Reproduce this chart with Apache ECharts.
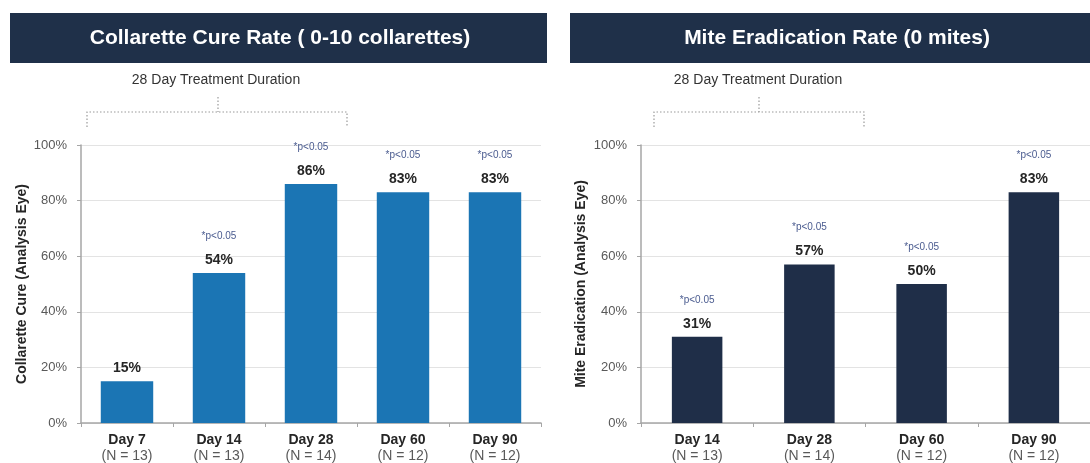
<!DOCTYPE html>
<html><head><meta charset="utf-8">
<script src="https://cdn.jsdelivr.net/npm/echarts@6/dist/echarts.min.js"></script>
<style>html,body{margin:0;padding:0;background:#fff}#c{width:1090px;height:463px}</style>
</head><body><div id="c"></div>
<script>
const leftCategories = ['Day 7', 'Day 14', 'Day 28', 'Day 60', 'Day 90'];
const leftN = ['(N = 13)', '(N = 13)', '(N = 14)', '(N = 12)', '(N = 12)'];
const leftValues = [15, 54, 86, 83, 83];
const leftP = ['', '*p<0.05', '*p<0.05', '*p<0.05', '*p<0.05'];

const rightCategories = ['Day 14', 'Day 28', 'Day 60', 'Day 90'];
const rightN = ['(N = 13)', '(N = 14)', '(N = 12)', '(N = 12)'];
const rightValues = [31, 57, 50, 83];
const rightP = ['*p<0.05', '*p<0.05', '*p<0.05', '*p<0.05'];

const yTicks = [0, 20, 40, 60, 80, 100];

const titleLeft = 'Collarette Cure Rate ( 0-10 collarettes)';
const titleRight = 'Mite Eradication Rate (0 mites)';
const subTitle = '28 Day Treatment Duration';
const yNameLeft = 'Collarette Cure (Analysis Eye)';
const yNameRight = 'Mite Eradication (Analysis Eye)';

const FONT = '"Liberation Sans", Arial, sans-serif';
const chart = echarts.init(document.getElementById('c'), null, {renderer: 'canvas'});

function xAxis(idx, cats, ns) {
  return {
    type: 'category', gridIndex: idx, data: cats,
    axisLine: {lineStyle: {color: '#a6a6a6', width: 1.5}},
    axisTick: {show: true, length: 4, lineStyle: {color: '#a6a6a6'}},
    axisLabel: {
      margin: 9, interval: 0,
      formatter: (v, i) => '{d|' + v + '}\n{n|' + ns[i] + '}',
      rich: {
        d: {fontFamily: FONT, fontSize: 14, fontWeight: 'bold', color: '#262626', lineHeight: 16},
        n: {fontFamily: FONT, fontSize: 14, color: '#595959', lineHeight: 16}
      }
    }
  };
}
function yAxis(idx, name, gap) {
  return {
    type: 'value', gridIndex: idx, min: yTicks[0], max: yTicks[yTicks.length - 1], interval: 20,
    name: name, nameLocation: 'middle', nameGap: gap, nameRotate: 90,
    nameTextStyle: {fontFamily: FONT, fontSize: 14, fontWeight: 'bold', color: '#262626'},
    axisLine: {show: true, lineStyle: {color: '#a6a6a6', width: 1.5}},
    axisTick: {show: true, length: 4, lineStyle: {color: '#a6a6a6'}},
    axisLabel: {margin: 14, fontFamily: FONT, fontSize: 13, color: '#595959', formatter: '{value}%'},
    splitLine: {lineStyle: {color: '#e3e3e3', width: 1}}
  };
}
function barSeries(idx, values, ps, color, bw) {
  return {
    type: 'bar', xAxisIndex: idx, yAxisIndex: idx, data: values, barWidth: bw,
    itemStyle: {color: color},
    label: {
      show: true, position: 'top', distance: 4,
      formatter: (p) => (ps[p.dataIndex] ? '{p|' + ps[p.dataIndex] + '}\n' : '') + '{v|' + p.value + '%}',
      rich: {
        p: {fontFamily: FONT, fontSize: 10, color: '#4a5b8f', lineHeight: 30},
        v: {fontFamily: FONT, fontSize: 14, fontWeight: 'bold', color: '#262626', lineHeight: 18}
      }
    }
  };
}
function bracket(x1, x2, xm) {
  const st = {stroke: '#9a9a9a', lineWidth: 1.2, lineDash: [1.5, 2]};
  return [
    {type: 'polyline', shape: {points: [[x1, 127], [x1, 112], [x2, 112], [x2, 127]]}, style: st, silent: true},
    {type: 'line', shape: {x1: xm, y1: 97, x2: xm, y2: 112}, style: st, silent: true}
  ];
}

chart.setOption({
  animation: false,
  grid: [
    {left: 81, top: 145, width: 460, bottom: 40},
    {left: 641, top: 145, width: 450, bottom: 40}
  ],
  xAxis: [xAxis(0, leftCategories, leftN), xAxis(1, rightCategories, rightN)],
  yAxis: [yAxis(0, yNameLeft, 52), yAxis(1, yNameRight, 53)],
  series: [
    barSeries(0, leftValues, leftP, '#1b75b4', '57%'),
    barSeries(1, rightValues, rightP, '#1f2e48', '45%')
  ],
  graphic: [
    {type: 'rect', shape: {x: 10, y: 13, width: 537, height: 50}, style: {fill: '#1f3049'}, silent: true},
    {type: 'text', x: 280, y: 38, style: {text: titleLeft, fill: '#ffffff', font: 'bold 21px ' + FONT, align: 'center', verticalAlign: 'middle'}, silent: true},
    {type: 'rect', shape: {x: 570, y: 13, width: 520, height: 50}, style: {fill: '#1f3049'}, silent: true},
    {type: 'text', x: 837, y: 38, style: {text: titleRight, fill: '#ffffff', font: 'bold 21px ' + FONT, align: 'center', verticalAlign: 'middle'}, silent: true},
    {type: 'text', x: 216, y: 80, style: {text: subTitle, fill: '#333333', font: '14px ' + FONT, align: 'center', verticalAlign: 'middle'}, silent: true},
    {type: 'text', x: 758, y: 80, style: {text: subTitle, fill: '#333333', font: '14px ' + FONT, align: 'center', verticalAlign: 'middle'}, silent: true}
  ].concat(bracket(87, 347, 218), bracket(654, 864, 759))
});
</script></body></html>
